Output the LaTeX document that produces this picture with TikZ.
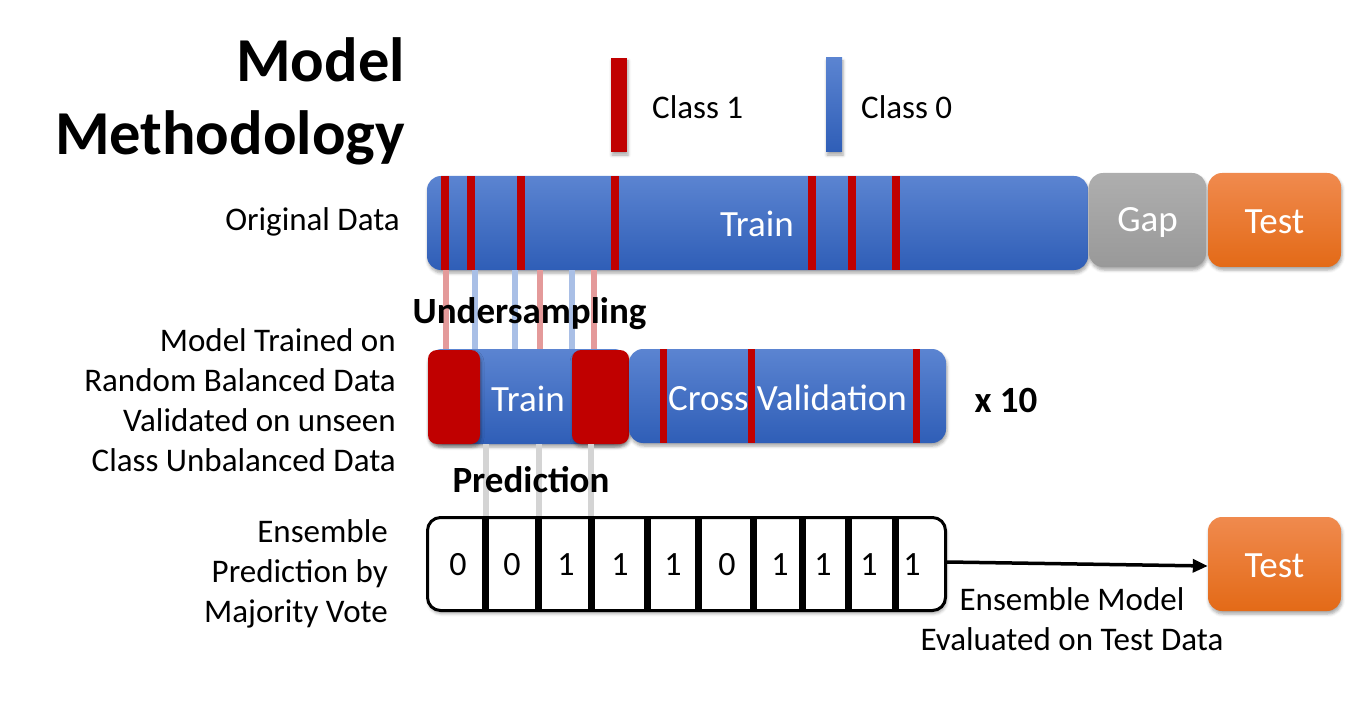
\documentclass[tikz,border=0pt]{standalone}
\usepackage{fontspec}
\setmainfont{Carlito}
\usetikzlibrary{arrows.meta,shadows.blur}
\definecolor{cred}{HTML}{C00000}
\definecolor{bartop}{HTML}{5B84D1}
\definecolor{barbot}{HTML}{2F5EB7}
\definecolor{ortop}{HTML}{F08A4E}
\definecolor{orbot}{HTML}{E36A17}
\definecolor{graytop}{HTML}{AEAEAE}
\definecolor{graybot}{HTML}{999999}
\definecolor{lred}{HTML}{E49A9A}
\definecolor{lblue}{HTML}{A9BFE6}
\definecolor{lgray}{HTML}{D4D4D4}
\begin{document}
\begin{tikzpicture}[x=1pt,y=-1pt,
  shad/.style={blur shadow={shadow xshift=1pt,shadow yshift=-3pt,shadow blur radius=3pt,shadow opacity=35}},
  bartext/.style={text=white,inner sep=0pt,font=\fontsize{37}{44}\selectfont},
  bar/.style={rounded corners=14pt,top color=bartop,bottom color=barbot,draw=none,bartext,shad},
  orbox/.style={rounded corners=14pt,top color=ortop,bottom color=orbot,draw=none,bartext,shad},
  graybox/.style={rounded corners=14pt,top color=graytop,bottom color=graybot,draw=none,bartext,shad},
  redblock/.style={rounded corners=9pt,fill=cred,draw=none,inner sep=0pt,shad},
  lbl/.style={font=\fontsize{33}{40}\selectfont,inner sep=0pt,text=black},
  bold/.style={font=\fontsize{37}{44}\selectfont\bfseries,inner sep=0pt},
  title/.style={font=\fontsize{62.5}{73}\selectfont\bfseries,inner sep=0pt},
  digit/.style={font=\fontsize{34}{40}\selectfont,inner sep=0pt},
  faint/.style={line width=6pt},
  stripe/.style={fill=cred}
]
\useasboundingbox (0,0) rectangle (1351,711);

% title
\node[title,anchor=base east] (t1) at (405,82) {Model};
\node[title,anchor=base east] (t2) at (405,155) {Methodology};

% legend
\node[fill=cred,minimum width=16pt,minimum height=94pt,inner sep=0pt,shad] (l1) at (619,105) {};
\node[bar,rounded corners=0pt,minimum width=16pt,minimum height=94pt] (l0) at (834,105) {};
\node[lbl,anchor=west] (c1) at (652,107) {Class 1};
\node[lbl,anchor=west] (c0) at (861,107) {Class 0};

% coordinates for faint connectors
\foreach \n/\x in {a/446,b/475,c/515,d/540,e/572,f/594,g/486,h/539,i/591}
  \coordinate (x\n) at (\x,0);

% row 1
\node[bar,minimum width=661pt,minimum height=94pt] (orig) at (757.5,223) {};
\foreach \x in {445,471,521,615,812,852,896}
  \fill[stripe] ({\x-4},176) rectangle ({\x+4},270);
\node[bartext] (origtxt) at (757,224) {Train};
\node[graybox,minimum width=117pt,minimum height=94pt] (gap) at (1147.5,220) {};
\node[bartext] (gaptxt) at (1147.5,222) {Gap};
\node[orbox,minimum width=133pt,minimum height=94pt] (test1) at (1274.5,220) {};
\node[bartext] (test1txt) at (1274.5,222) {Test};
\node[lbl,anchor=east] (ol) at (400,222) {Original Data};

% row 2
\node[bar,minimum width=200pt,minimum height=95pt] (trainbar) at (528,396.5) {};
\node[redblock,minimum width=52pt,minimum height=94pt] (redL) at (454,397) {};
\node[redblock,minimum width=57pt,minimum height=94pt] (redR) at (600.5,397) {};
\node[bartext] (traintxt) at (528,399) {Train};
\node[bar,minimum width=317pt,minimum height=94pt] (cv) at (787.5,396) {};
\foreach \x in {663,751,916}
  \fill[stripe] ({\x-3.5},349) rectangle ({\x+3.5},443);
\node[bartext] (cvtxt) at (787.5,398) {Cross Validation};
\node[bold] (x10) at (1006,400) {x 10};
\node[lbl,anchor=east,align=right] (ml) at (396,400) {Model Trained on\\Random Balanced Data\\Validated on unseen\\Class Unbalanced Data};

% faint connectors
\draw[faint,lred]  (xa |- orig.south) -- (xa |- trainbar.north);
\draw[faint,lblue] (xb |- orig.south) -- (xb |- trainbar.north);
\draw[faint,lblue] (xc |- orig.south) -- (xc |- trainbar.north);
\draw[faint,lred]  (xd |- orig.south) -- (xd |- trainbar.north);
\draw[faint,lblue] (xe |- orig.south) -- (xe |- trainbar.north);
\draw[faint,lred]  (xf |- orig.south) -- (xf |- trainbar.north);
\node[bold] (us) at (529.5,314) {Undersampling};

% row 3
\node[draw=black,line width=3pt,rounded corners=13pt,fill=white,minimum width=518pt,minimum height=93pt,inner sep=0pt,shad] (pred) at (686.5,564) {};
\draw[faint,lgray] (xg |- trainbar.south) -- (xg |- pred.north);
\draw[faint,lgray] (xh |- trainbar.south) -- (xh |- pred.north);
\draw[faint,lgray] (xi |- trainbar.south) -- (xi |- pred.north);
\node[bold] (pr) at (531,480) {Prediction};
\foreach \x in {485,538,591,647,698,753,802,848,895}
  \fill[black] ({\x-3.5},517) rectangle ({\x+3.5},612);
\foreach \d/\x [count=\i] in {0/458,0/512,1/566,1/620,1/673,0/727,1/780,1/823,1/869,1/912}
  \node[digit] (d\i) at (\x,565) {\d};
\node[lbl,anchor=east,align=right] (el) at (388,574) {Ensemble\\Prediction by\\Majority Vote};

\node[orbox,minimum width=133pt,minimum height=94pt] (test2) at (1274.5,564) {};
\node[bartext] (test2txt) at (1274.5,566) {Test};
\draw[line width=3.5pt,-{Triangle[length=15pt,width=13pt]}] ([yshift=2pt]pred.east) -- ([yshift=-2pt]test2.west);
\node[lbl,align=center] (ev) at (1072,619) {Ensemble Model\\Evaluated on Test Data};
\end{tikzpicture}
\end{document}
